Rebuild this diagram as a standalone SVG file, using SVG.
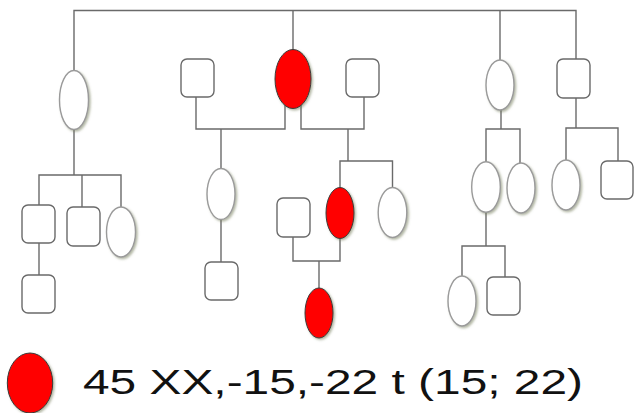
<svg xmlns="http://www.w3.org/2000/svg" width="634" height="413" viewBox="0 0 634 413">
<defs>
<filter id="sh" x="-30%" y="-30%" width="170%" height="170%">
<feDropShadow dx="1.5" dy="1.5" stdDeviation="0.8" flood-color="#6f7a55" flood-opacity="0.55"/>
</filter>
<style>
.ln{fill:none;stroke:#6a6a6a;stroke-width:1.4}
.sq{fill:#fff;stroke:#6a6a6a;stroke-width:1.4}
.ov{fill:#fff;stroke:#9a9a9a;stroke-width:1.4;filter:url(#sh)}
.rd{fill:#ff0000;stroke:#3a3a3a;stroke-width:1;filter:url(#sh)}
.lg{font-family:"Liberation Sans",Arial,sans-serif;font-size:35px;fill:#111}
</style>
</defs>
<rect width="634" height="413" fill="#fff"/>
<g id="connectors">
<path class="ln" d="M74,71 V10.5 H576 V59"/>
<path class="ln" d="M293,10.5 V50"/>
<path class="ln" d="M500,10.5 V60"/>
<path class="ln" d="M74,130 V175"/>
<path class="ln" d="M39,205 V175 H121 V207"/>
<path class="ln" d="M82,175 V207"/>
<path class="ln" d="M39,243 V275"/>
<path class="ln" d="M196,97 V129 H285 V105"/>
<path class="ln" d="M221,129 V168.5"/>
<path class="ln" d="M221,219.5 V262"/>
<path class="ln" d="M301,105 V129 H364 V97"/>
<path class="ln" d="M348,129 V161"/>
<path class="ln" d="M340,187.5 V161 H392.5 V187.5"/>
<path class="ln" d="M293,237 V261 H340 V238.5"/>
<path class="ln" d="M319,261 V288"/>
<path class="ln" d="M501,110 V129"/>
<path class="ln" d="M486,162 V129 H520 V163"/>
<path class="ln" d="M486,212 V246"/>
<path class="ln" d="M462,276 V246 H505 V277"/>
<path class="ln" d="M576,98 V128"/>
<path class="ln" d="M566,160 V128 H618 V161"/>
</g>
<g id="n1"><ellipse class="ov" cx="74" cy="100" rx="14.5" ry="29.5"/></g>
<g id="n2"><rect class="sq" x="181" y="59" width="33" height="38" rx="6"/></g>
<g id="n3"><ellipse class="rd" cx="293" cy="79" rx="18" ry="29.5"/></g>
<g id="n4"><rect class="sq" x="346" y="59" width="33" height="38" rx="6"/></g>
<g id="n5"><ellipse class="ov" cx="500" cy="85" rx="14" ry="25"/></g>
<g id="n6"><rect class="sq" x="557" y="59" width="33" height="39" rx="6"/></g>
<g id="n7"><rect class="sq" x="22" y="205" width="33" height="38" rx="6"/></g>
<g id="n8"><rect class="sq" x="67" y="207" width="33" height="39" rx="6"/></g>
<g id="n9"><ellipse class="ov" cx="121" cy="232" rx="14.5" ry="25"/></g>
<g id="n10"><rect class="sq" x="22" y="275" width="33" height="38" rx="6"/></g>
<g id="n11"><ellipse class="ov" cx="221" cy="194" rx="14" ry="25.5"/></g>
<g id="n12"><rect class="sq" x="205" y="262" width="33" height="38" rx="6"/></g>
<g id="n13"><rect class="sq" x="277" y="198" width="33" height="39" rx="6"/></g>
<g id="n14"><ellipse class="rd" cx="340" cy="213" rx="14" ry="25.5"/></g>
<g id="n15"><ellipse class="ov" cx="392.5" cy="212.5" rx="14.3" ry="25"/></g>
<g id="n16"><ellipse class="rd" cx="319" cy="313" rx="14" ry="25"/></g>
<g id="n17"><ellipse class="ov" cx="486" cy="187" rx="14.3" ry="25.3"/></g>
<g id="n18"><ellipse class="ov" cx="521" cy="188" rx="14" ry="25"/></g>
<g id="n19"><ellipse class="ov" cx="566" cy="185" rx="14" ry="25"/></g>
<g id="n20"><rect class="sq" x="601" y="161" width="32" height="38" rx="6"/></g>
<g id="n21"><ellipse class="ov" cx="462" cy="301" rx="14" ry="25"/></g>
<g id="n22"><rect class="sq" x="487" y="277" width="33" height="38" rx="6"/></g>
<g id="legend">
<ellipse class="rd" cx="30" cy="383" rx="22.7" ry="30"/>
<text class="lg" x="83" y="394" textLength="500" lengthAdjust="spacingAndGlyphs">45 XX,-15,-22 t (15; 22)</text>
</g>
</svg>
